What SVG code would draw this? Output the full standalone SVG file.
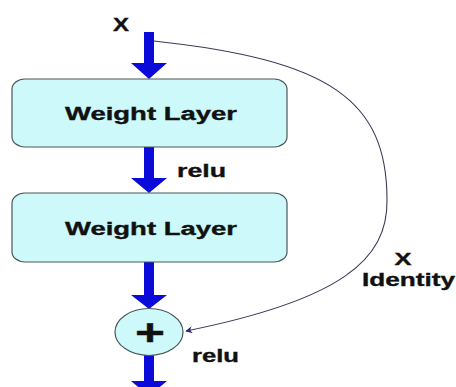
<svg xmlns="http://www.w3.org/2000/svg" width="456" height="387" viewBox="0 0 456 387">
  <style>
    .lbl { font-family: "Liberation Sans", Arial, sans-serif; font-weight: bold; fill: #111; stroke: #111; stroke-width: 0.35; }
    .box { fill: #cdf9fb; stroke: #4c5656; stroke-width: 1.2; }
    .flow { fill: #0b0bd9; }
    .skip { fill: none; stroke: #3a3a5a; stroke-width: 1.1; }
  </style>
  <defs>
    <marker id="tip" viewBox="0 0 10 10" refX="9" refY="5" markerWidth="7" markerHeight="7" orient="auto" markerUnits="userSpaceOnUse">
      <path d="M0,0 L10,5 L0,10 L3,5 Z" fill="#2a2a6a"/>
    </marker>
  </defs>
  <rect width="456" height="387" fill="#ffffff"/>

  <!-- input label -->
  <text class="lbl" x="121" y="31" font-size="18" text-anchor="middle" textLength="16" lengthAdjust="spacingAndGlyphs">X</text>

  <g id="connectors">
    <!-- main path arrows -->
    <polygon class="flow" points="144,32 154,32 154,63 167,63 149,79 131,63 144,63"/>
    <polygon class="flow" points="144,147 154,147 154,178 167,178 149,193 131,178 144,178"/>
    <polygon class="flow" points="144,262 154,262 154,295 167,295 149,309 131,295 144,295"/>
    <polygon class="flow" points="144,355 154,355 154,381 167,381 149,396 131,381 144,381"/>
    <!-- identity shortcut -->
    <path class="skip" d="M154,41 C330,60 387,100 387,200 C388,260 340,300 186,331" marker-end="url(#tip)"/>
  </g>

  <g id="weight1">
    <rect class="box" x="12" y="79" width="275" height="68" rx="13" ry="10"/>
    <text class="lbl" x="151" y="120" font-size="18" text-anchor="middle" textLength="172" lengthAdjust="spacingAndGlyphs">Weight Layer</text>
  </g>

  <text class="lbl" x="177" y="177" font-size="18" textLength="49" lengthAdjust="spacingAndGlyphs">relu</text>

  <g id="weight2">
    <rect class="box" x="12" y="193" width="275" height="69" rx="13" ry="10"/>
    <text class="lbl" x="151" y="235" font-size="18" text-anchor="middle" textLength="172" lengthAdjust="spacingAndGlyphs">Weight Layer</text>
  </g>

  <g id="sum">
    <ellipse class="box" cx="149" cy="332" rx="34" ry="23.5"/>
    <text class="lbl" x="150" y="345" font-size="36" text-anchor="middle" textLength="30" lengthAdjust="spacingAndGlyphs">+</text>
  </g>

  <text class="lbl" x="192" y="362" font-size="18" textLength="47" lengthAdjust="spacingAndGlyphs">relu</text>

  <text class="lbl" x="403" y="265" font-size="17" text-anchor="middle" textLength="17" lengthAdjust="spacingAndGlyphs">X</text>
  <text class="lbl" x="362" y="286" font-size="19" textLength="93" lengthAdjust="spacingAndGlyphs">Identity</text>
</svg>
